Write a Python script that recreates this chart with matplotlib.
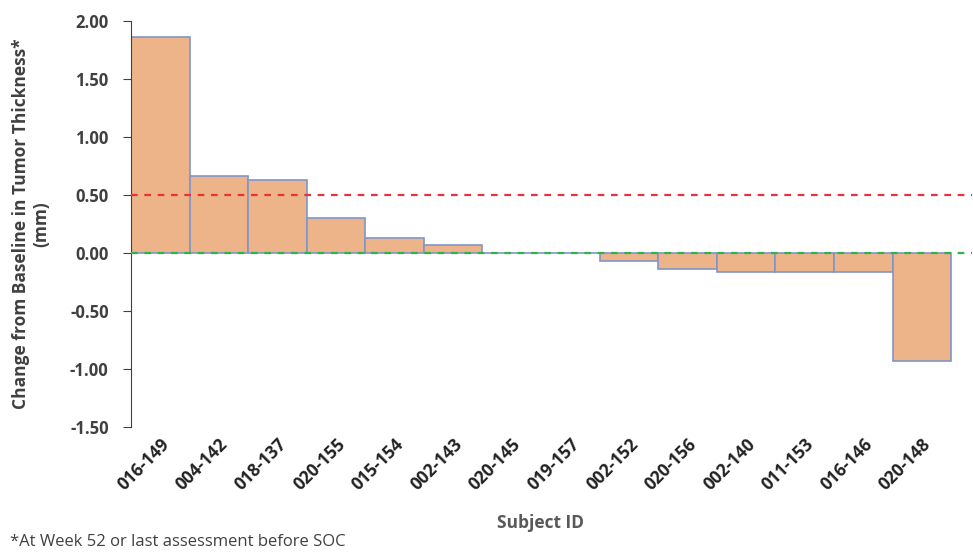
import matplotlib.pyplot as plt

# Data
subjects = ['016-149', '004-142', '018-137', '020-155', '015-154', '002-143', '020-145',
            '019-157', '002-152', '020-156', '002-140', '011-153', '016-146', '020-148']
change_mm = [1.86, 0.66, 0.63, 0.30, 0.13, 0.07, 0.0,
             0.0, -0.07, -0.14, -0.16, -0.16, -0.16, -0.93]
yticks = [2.00, 1.50, 1.00, 0.50, 0.00, -0.50, -1.00, -1.50]
threshold = 0.5

plt.rcParams['font.family'] = ['Open Sans', 'DejaVu Sans']
text_col = '#404040'

fig = plt.figure(figsize=(9.73, 5.52), dpi=100)
ax = fig.add_axes([0.1346, 0.2264, 0.864, 0.7356])

x = list(range(len(subjects)))
ax.bar(x, change_mm, width=1.0, color='#EDB48A', edgecolor='#8096C8', linewidth=1.2, zorder=2)

# Reference lines
ax.axhline(threshold, color='#E8323A', linestyle=(0, (3, 3)), linewidth=1.6, zorder=3)
ax.axhline(0, color='#2DB34A', linestyle=(0, (3, 3)), linewidth=1.6, zorder=3)

ax.set_xlim(-0.5, 13.85)
ax.set_ylim(-1.5, 2.0)
ax.set_yticks(yticks)
ax.set_yticklabels(['%.2f' % v for v in yticks], fontsize=12, fontweight='bold', color=text_col)
ax.set_xticks(x)
ax.set_xticklabels(subjects, rotation=45, ha='right', rotation_mode='anchor',
                   fontsize=12.5, fontweight='bold', color='#222222')

for side in ['top', 'right', 'bottom']:
    ax.spines[side].set_visible(False)
ax.spines['left'].set_color('#404040')
ax.tick_params(axis='x', length=0, pad=6)
ax.tick_params(axis='y', length=6, color='#404040', pad=10)

ax.set_ylabel('Change from Baseline in Tumor Thickness*\n(mm)', fontsize=12.5,
              fontweight='bold', color=text_col, labelpad=14)
fig.text(0.555, 0.053, 'Subject ID', ha='center', va='center', fontsize=12.5,
         fontweight='bold', color='#595959')
fig.text(0.01, 0.018, '*At Week 52 or last assessment before SOC', ha='left', va='center',
         fontsize=12, color=text_col)

fig.savefig('out.png', dpi=100)
